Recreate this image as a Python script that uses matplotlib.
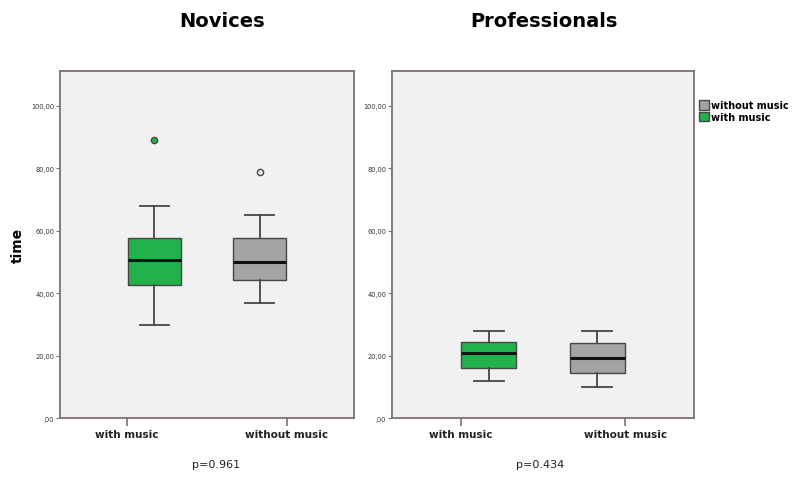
import matplotlib
matplotlib.use("Agg")
import matplotlib.pyplot as plt
from matplotlib.patches import Patch
from matplotlib.ticker import FixedLocator

# ---- data ----
panels = ["Novices", "Professionals"]
categories = ["with music", "without music"]
p_values = ["p=0.961", "p=0.434"]
# order: [with music, without music]
nov_whislo = [29.8, 36.9]
nov_q1 = [42.7, 44.2]
nov_med = [50.8, 49.9]
nov_q3 = [57.6, 57.6]
nov_whishi = [68.0, 65.2]
nov_fliers = [[89.0], [79.0]]
pro_whislo = [11.9, 9.9]
pro_q1 = [15.9, 14.4]
pro_med = [20.8, 19.1]
pro_q3 = [24.4, 23.9]
pro_whishi = [28.0, 28.0]
pro_fliers = [[], []]
y_ticks = [0, 20, 40, 60, 80, 100]
y_tick_labels = [",00", "20,00", "40,00", "60,00", "80,00", "100,00"]

colors = ["#22b24b", "#a3a3a3"]
flier_faces = ["#22b24b", "#e8e8e8"]
frame_col = "#7d716d"
edge_col = "#4a4444"

fig = plt.figure(figsize=(8, 4.85), dpi=100)
fig.patch.set_facecolor("white")

axes_rects = [[0.075, 0.136, 0.3675, 0.7155], [0.49, 0.136, 0.3775, 0.7155]]
data = [
    (nov_whislo, nov_q1, nov_med, nov_q3, nov_whishi, nov_fliers),
    (pro_whislo, pro_q1, pro_med, pro_q3, pro_whishi, pro_fliers),
]
offsets = [0.17, 1 - 0.17]
title_x = [0.277, 0.68]
p_x = [0.27, 0.675]

for i, rect in enumerate(axes_rects):
    ax = fig.add_axes(rect)
    ax.set_facecolor("#f1f1f1")
    wl, q1, med, q3, wh, fl = data[i]
    for j in range(2):
        stats = [dict(whislo=wl[j], q1=q1[j], med=med[j], q3=q3[j],
                      whishi=wh[j], fliers=fl[j])]
        ax.bxp(stats, positions=[offsets[j]], widths=0.335, capwidths=0.18,
               patch_artist=True, showfliers=True,
               boxprops=dict(facecolor=colors[j], edgecolor=edge_col, linewidth=1.0),
               medianprops=dict(color="#111111", linewidth=2.2),
               whiskerprops=dict(color=edge_col, linewidth=1.3),
               capprops=dict(color=edge_col, linewidth=1.3),
               flierprops=dict(marker="o", markersize=4.5, markerfacecolor=flier_faces[j],
                               markeredgecolor=edge_col, markeredgewidth=1.0))
    ax.set_xlim(-0.42, 1.42)
    ax.set_ylim(0, 111.2)
    ax.xaxis.set_major_locator(FixedLocator([0, 1]))
    ax.set_xticklabels(categories, fontsize=7.5, fontweight="bold", color="#222222")
    ax.set_yticks(y_ticks)
    ax.set_yticklabels(y_tick_labels, fontsize=4.8, color="#333333")
    ax.tick_params(axis="x", length=6, width=1.2, color=frame_col, pad=2)
    ax.tick_params(axis="y", length=3, width=0.8, color=frame_col, pad=1)
    for s in ax.spines.values():
        s.set_color(frame_col)
        s.set_linewidth(1.3)
    fig.text(title_x[i], 0.955, panels[i], ha="center", va="center",
             fontsize=14, fontweight="bold")
    fig.text(p_x[i], 0.042, p_values[i], ha="center", va="center", fontsize=8,
             color="#222222")
    if i == 0:
        ax.set_ylabel("time", fontsize=10, fontweight="bold", labelpad=5)
    else:
        handles = [Patch(facecolor=colors[1], edgecolor=edge_col, label=categories[1]),
                   Patch(facecolor=colors[0], edgecolor=edge_col, label=categories[0])]
        ax.legend(handles=handles, loc="upper left", bbox_to_anchor=(1.0, 0.93),
                  frameon=False, handlelength=1.0, handleheight=1.1,
                  handletextpad=0.2, labelspacing=0.15, borderaxespad=0.1,
                  prop=dict(size=7, weight="bold"))

fig.savefig("out.png", dpi=100)
